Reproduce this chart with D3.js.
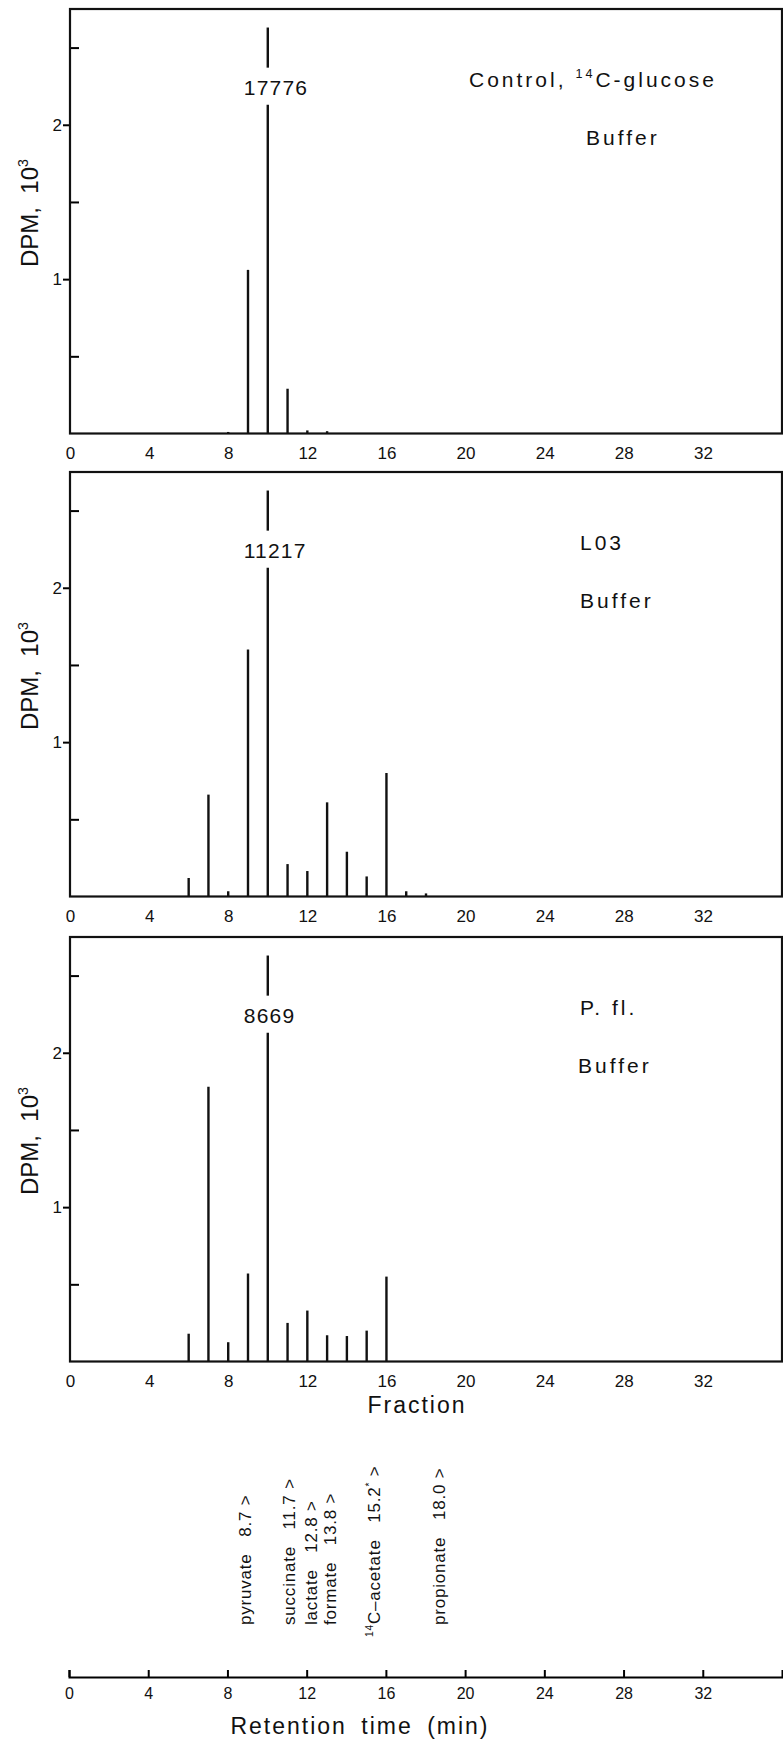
<!DOCTYPE html>
<html>
<head>
<meta charset="utf-8">
<script src="https://cdnjs.cloudflare.com/ajax/libs/d3/7.8.5/d3.min.js"></script>
<style>
  body { margin: 0; background: #fff; }
  svg { display: block; font-family: "Liberation Sans", Arial, Helvetica, sans-serif; }
  text { white-space: pre; fill: #111; }
</style>
</head>
<body>
<div id="chart"></div>
<script>
// DATA

var fractions = [6, 7, 8, 9, 10, 11, 12, 13, 14, 15, 16, 17, 18];

// DPM x 10^3 per fraction (fraction 10 runs off scale and gets a label)
var controlDPM = [0, 0, 0.01, 1.06, 17.776, 0.29, 0.02, 0.015, 0, 0, 0, 0, 0];
var l03DPM     = [0.12, 0.66, 0.034, 1.60, 11.217, 0.21, 0.165, 0.61, 0.29, 0.13, 0.80, 0.034, 0.02];
var pflDPM     = [0.18, 1.78, 0.125, 0.57, 8.669, 0.25, 0.33, 0.17, 0.165, 0.20, 0.55, 0, 0];

var panelNames  = ["Control, ^{14}C-glucose", "L03", "P. fl."];
var panelMedium = ["Buffer", "Buffer", "Buffer"];

var xTicks = [0, 4, 8, 12, 16, 20, 24, 28, 32];
var yMajor = [1, 2];
var yMinor = [0.5, 1.5, 2.5];

var compounds = ["pyruvate", "succinate", "lactate", "formate", "^{14}C\u2013acetate", "propionate"];
var retTimes  = ["8.7", "11.7", "12.8", "13.8", "15.2^{*}", "18.0"];
var labelPos  = [8.9, 11.1, 12.2, 13.2, 15.4, 18.7];   // where each label sits on the time axis

// LAYOUT

var width = 783;
var height = 1744;
var left = 70;
var right = 782;
var panelTop = [9, 472, 937];
var panelH = 424.5;
var titleX = [469, 580, 580];
var mediumX = [586, 580, 578];

var clipTop = 2.63;      // off-scale bars stop here
var breakLo = 2.13;      // gap in the bar for the count label
var breakHi = 2.37;

var svg = d3.select("#chart")
    .append("svg")
    .attr("width", width)
    .attr("height", height);

svg.append("rect")
    .attr("width", width)
    .attr("height", height)
    .attr("fill", "#fff");

var x = d3.scaleLinear()
    .domain([0, 36])
    .range([left, right]);

// text with ^{...} superscripts
function rich(sel, str, size) {
    var parts = str.split(/\^\{([^}]*)\}/);
    var lift = size * 0.42;
    var raised = false;
    parts.forEach(function (p, i) {
        if (p === "") return;
        var t = sel.append("tspan").text(p);
        if (i % 2 == 1) {
            t.attr("font-size", size * 0.6).attr("dy", raised ? 0 : -lift);
            raised = true;
        } else {
            if (raised) t.attr("dy", lift);
            raised = false;
        }
    });
}

// PANELS

var series = [controlDPM, l03DPM, pflDPM];

series.forEach(function (values, p) {

    var top = panelTop[p];
    var bottom = top + panelH;

    var y = d3.scaleLinear()
        .domain([0, 2.75])
        .range([bottom, top]);

    var g = svg.append("g");

    // x labels only, no ticks
    var xa = g.append("g")
        .attr("transform", "translate(0," + bottom + ")")
        .call(d3.axisBottom(x).tickValues(xTicks).tickSize(0).tickPadding(13));
    xa.select(".domain").remove();
    xa.selectAll("text").attr("font-size", 17).attr("font-family", null);

    // major ticks point out, minor ticks point in
    var ya = g.append("g")
        .attr("transform", "translate(" + left + ",0)")
        .call(d3.axisLeft(y).tickValues(yMajor).tickSize(7).tickPadding(1).tickFormat(d3.format("d")));
    ya.select(".domain").remove();
    ya.selectAll("line").attr("stroke-width", 2);
    ya.selectAll("text").attr("font-size", 17).attr("font-family", null);

    var ym = g.append("g")
        .attr("transform", "translate(" + left + ",0)")
        .call(d3.axisRight(y).tickValues(yMinor).tickSize(9).tickFormat(""));
    ym.select(".domain").remove();
    ym.selectAll("line").attr("stroke-width", 2);

    g.append("rect")
        .attr("x", left)
        .attr("y", top)
        .attr("width", right - left)
        .attr("height", panelH)
        .attr("fill", "none")
        .attr("stroke", "#111")
        .attr("stroke-width", 2.2);

    // y title
    var yt = g.append("text")
        .attr("transform", "translate(38," + (top + 258) + ") rotate(-90)")
        .attr("font-size", 24);
    rich(yt, "DPM,  10^{3}", 24);

    // sample name and medium
    var nt = g.append("text")
        .attr("x", titleX[p])
        .attr("y", top + 78)
        .attr("font-size", 21)
        .attr("letter-spacing", 3);
    rich(nt, panelNames[p], 21);

    g.append("text")
        .attr("x", mediumX[p])
        .attr("y", top + 136)
        .attr("font-size", 21)
        .attr("letter-spacing", 3)
        .text(panelMedium[p]);

    // bars
    var bars = fractions.map(function (f, i) { return { f: f, v: values[i] }; })
        .filter(function (d) { return d.v > 0; });

    bars.forEach(function (d) {
        var segs = d.v > clipTop ? [[0, breakLo], [breakHi, clipTop]] : [[0, d.v]];
        segs.forEach(function (s) {
            g.append("line")
                .attr("x1", x(d.f))
                .attr("x2", x(d.f))
                .attr("y1", y(s[0]))
                .attr("y2", y(s[1]))
                .attr("stroke", "#111")
                .attr("stroke-width", 2.4);
        });
        if (d.v > clipTop) {
            g.append("text")
                .attr("x", x(d.f) - 24)
                .attr("y", top + 86)
                .attr("font-size", 21)
                .attr("letter-spacing", 1.2)
                .text(Math.round(d.v * 1000));
        }
    });
});

svg.append("text")
    .attr("x", 417)
    .attr("y", 1413)
    .attr("text-anchor", "middle")
    .attr("font-size", 23)
    .attr("letter-spacing", 2)
    .text("Fraction");

// RETENTION TIME AXIS

var xr = d3.scaleLinear()
    .domain([0, 36])
    .range([69, 782]);

var ra = svg.append("g")
    .attr("transform", "translate(0,1677)")
    .call(d3.axisBottom(xr).tickValues(xTicks).tickSize(-7).tickSizeOuter(-7).tickPadding(11));
ra.selectAll("line, path").attr("stroke-width", 2);
ra.selectAll("text").attr("font-size", 16).attr("font-family", null);

svg.append("text")
    .attr("x", 360)
    .attr("y", 1734)
    .attr("text-anchor", "middle")
    .attr("font-size", 23)
    .attr("letter-spacing", 2)
    .attr("word-spacing", 6)
    .text("Retention time (min)");

// compound labels, read bottom to top
compounds.forEach(function (c, i) {
    var base = c.charAt(0) == "^" ? 1637 : 1625;
    var t = svg.append("text")
        .attr("transform", "translate(" + xr(labelPos[i]) + "," + base + ") rotate(-90)")
        .attr("y", 6)
        .attr("font-size", 17)
        .attr("letter-spacing", 0.8);
    rich(t, c + "   " + retTimes[i] + " >", 17);
});
</script>
</body>
</html>
